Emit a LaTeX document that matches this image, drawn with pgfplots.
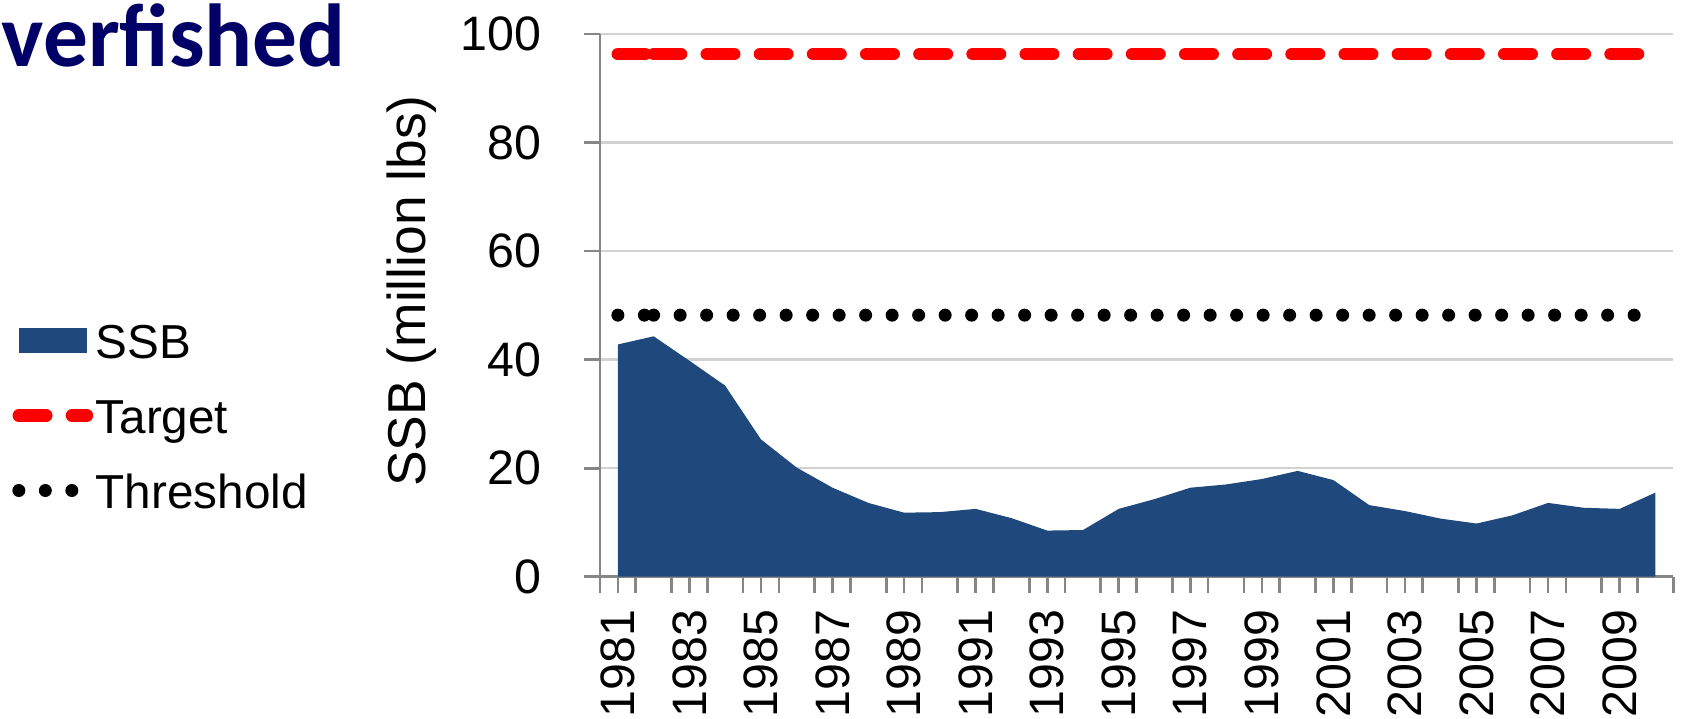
\documentclass[border=0pt]{standalone}
\usepackage{fontspec}
\setmainfont{Liberation Sans}
\newfontfamily\titlefont{Carlito}
\usepackage{pgfplots}
\pgfplotsset{compat=1.18}
\definecolor{ssbblue}{RGB}{31,73,125}
\definecolor{titlenavy}{RGB}{0,0,102}
\definecolor{axisgray}{RGB}{134,134,134}
\definecolor{gridgray}{RGB}{210,210,210}

\begin{document}
\begin{tikzpicture}[x=0.3pt,y=0.3pt]
% page = 1685 x 718 px, 1 px = 0.3pt
\useasboundingbox (0,0) rectangle (1685,718);
\node[anchor=base west, inner sep=0pt, text=titlenavy,
      font=\titlefont\bfseries\fontsize{26.8}{30}\selectfont] at (1,651) {verfished};
\node[rotate=90, anchor=base, font=\fontsize{16}{19}\selectfont] at (425,427) {SSB (million lbs)};

\begin{axis}[
  at={(180pt,42.39pt)}, anchor=south west,
  scale only axis, width=322pt, height=162.8pt,
  xmin=1980.5, xmax=2010.5, ymin=0, ymax=100,
  axis x line*=bottom, axis y line*=left,
  every outer x axis line/.append style={-},
  every outer y axis line/.append style={-},
  axis line style={draw=axisgray, line width=0.8pt},
  ytick={0,20,...,100},
  ymajorgrids, grid style={draw=gridgray, line width=0.7pt},
  tick align=outside, major tick length=4.8pt,
  major tick style={draw=axisgray, line width=0.8pt},
  xtick={1980.5,1981.5,...,2010.6},
  xticklabels={},
  extra x ticks={1981,1983,...,2009},
  extra x tick labels={1981,1983,1985,1987,1989,1991,1993,1995,1997,1999,2001,2003,2005,2007,2009},
  extra x tick style={tick style={draw=none}},
  tick label style={font=\fontsize{14.5}{17}\selectfont},
  /pgf/number format/assume math mode=true,
  yticklabel style={inner sep=0pt, xshift=-12.7pt},
  xticklabel style={rotate=90, anchor=east, inner sep=0pt},
  xticklabel shift=5pt,
  legend style={draw=none, fill=none, inner sep=0pt, outer sep=0pt,
    at={(-0.5475,0.4675)}, anchor=north west,
    font=\fontsize{14.3}{17}\selectfont,
    nodes={inner xsep=0pt, inner ysep=0pt, text height=10.5pt, text depth=0pt},
    row sep=12pt, column sep=0.7pt},
  legend cell align=left,
]
\addplot[fill=ssbblue, draw=none,
  legend image code/.code={\fill[ssbblue] (0pt,-3.75pt) rectangle (20.4pt,3.75pt);}]
  coordinates {
  (1981,42.8) (1982,44.3) (1983,39.8) (1984,35.2) (1985,25.3)
  (1986,20.1) (1987,16.4) (1988,13.6) (1989,11.8) (1990,11.9)
  (1991,12.5) (1992,10.8) (1993,8.5) (1994,8.6) (1995,12.5)
  (1996,14.3) (1997,16.4) (1998,17.0) (1999,18.0) (2000,19.5)
  (2001,17.8) (2002,13.2) (2003,12.1) (2004,10.7) (2005,9.8)
  (2006,11.3) (2007,13.6) (2008,12.7) (2009,12.5) (2010,15.5)
  } \closedcycle;
\addlegendentry{SSB}
\addplot[red, line width=3.8pt, line cap=round, dash pattern=on 8.2pt off 7.75pt, forget plot]
  coordinates {(1981,96.3) (1982,96.3)};
\addplot[red, line width=3.8pt, line cap=round, dash pattern=on 8.2pt off 7.75pt,
  legend image code/.code={\path[draw=none,fill=none] (0pt,-3.75pt) rectangle (20.4pt,3.75pt);
    \draw[red, line width=3.8pt, line cap=round, dash pattern=on 8.2pt off 7.75pt] (0pt,0pt) -- (20.4pt,0pt);}]
  coordinates {(1982,96.3) (2010,96.3)};
\addlegendentry{Target}
\addplot[black, line width=3.9pt, line cap=round, dash pattern=on 0pt off 7.95pt, forget plot]
  coordinates {(1981,48.2) (1982,48.2)};
\addplot[black, line width=3.9pt, line cap=round, dash pattern=on 0pt off 7.95pt,
  legend image code/.code={\path[draw=none,fill=none] (0pt,-3.75pt) rectangle (20.4pt,3.75pt);
    \draw[black, line width=3.9pt, line cap=round, dash pattern=on 0pt off 7.95pt] (0pt,0pt) -- (20.4pt,0pt);}]
  coordinates {(1982,48.2) (2010,48.2)};
\addlegendentry{Threshold}
\end{axis}
\end{tikzpicture}
\end{document}
